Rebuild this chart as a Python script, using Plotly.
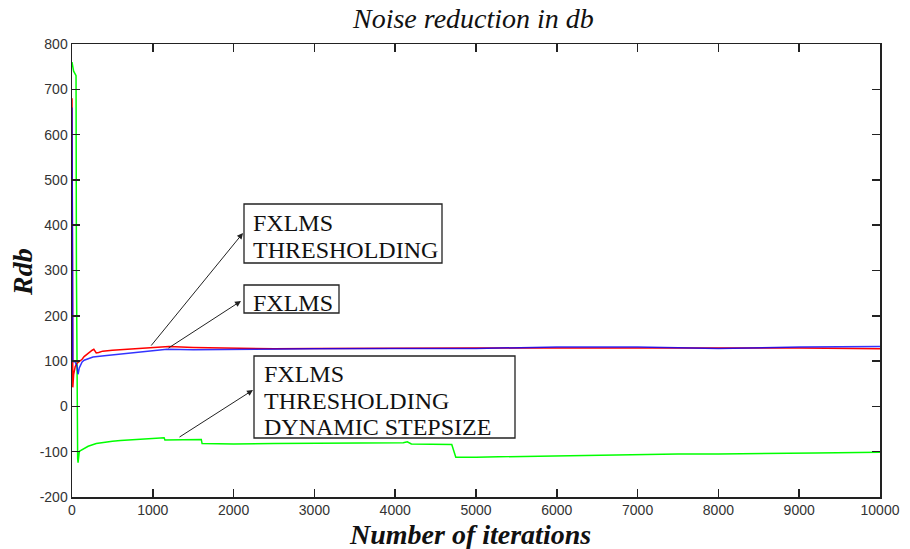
import plotly.graph_objects as go

# ---- data ----
red_iter = [0, 3, 6, 10, 20, 40, 60, 80, 100, 125, 150, 200, 250, 270, 300, 330, 380, 500, 600, 800, 1000, 1200, 1500, 2000, 2500, 3000, 4000, 5000, 6000, 7000, 8000, 9000, 10000]
red_val = [680, 400, 92, 42, 70, 88, 95, 98, 100, 104, 110, 118, 124, 126, 118, 119, 122, 124, 125, 128, 130, 132, 130, 128, 127, 128, 129, 129, 129, 129, 128, 129, 127]

blue_iter = [0, 3, 6, 10, 20, 40, 60, 75, 90, 110, 125, 150, 200, 260, 400, 670, 965, 1176, 1500, 1960, 2500, 3000, 4000, 5000, 6000, 7000, 8000, 9000, 10000]
blue_val = [660, 380, 100, 98, 100, 98, 90, 71, 85, 95, 98, 102, 106, 109, 112, 117, 121, 126, 125, 126, 126, 127, 128, 128, 131, 131, 128, 131, 132]

green_iter = [0, 10, 20, 35, 50, 55, 60, 65, 70, 75, 80, 90, 100, 130, 150, 200, 300, 400, 500, 600, 800, 1000, 1100, 1140, 1150, 1600, 1610, 2000, 2500, 3000, 3500, 4000, 4100, 4150, 4200, 4700, 4750, 5000, 6000, 7000, 7500, 8000, 9000, 9200, 10000]
green_val = [760, 745, 740, 735, 730, 300, -60, -90, -115, -124, -110, -100, -98, -95, -92, -88, -82, -79, -77, -75, -73, -70, -69, -69, -74, -73, -82, -83, -82, -81, -80, -79, -80, -78, -83, -84, -112, -112, -109, -107, -105, -105, -104, -103, -101]

x_ticks = [0, 1000, 2000, 3000, 4000, 5000, 6000, 7000, 8000, 9000, 10000]
y_ticks = [-200, -100, 0, 100, 200, 300, 400, 500, 600, 700, 800]

title_text = "Noise reduction in db"
x_title = "Number of iterations"
y_title = "Rdb"
label_thr = ["FXLMS", "THRESHOLDING"]
label_fx = ["FXLMS"]
label_dyn = ["FXLMS", "THRESHOLDING", "DYNAMIC STEPSIZE"]

serif = "Liberation Serif, Times New Roman, serif"
sans = "Liberation Sans, Arial, sans-serif"

# body margin removed in the page (post_script), so the figure fills the window
W, H = 910, 549
L, R, T, B = 72, 30, 44, 52
pw, ph = W - L - R, H - T - B
X0, X1 = 0, 10000
Y0, Y1 = -200, 800

def dx(px):  # window pixel -> x data
    return X0 + (px - L) / pw * (X1 - X0)

def dy(py):  # window pixel -> y data
    return Y0 + (H - B - py) / ph * (Y1 - Y0)

fig = go.Figure()
fig.add_trace(go.Scatter(x=green_iter, y=green_val, mode="lines", line=dict(color="#00ff00", width=1.5), showlegend=False))
fig.add_trace(go.Scatter(x=red_iter, y=red_val, mode="lines", line=dict(color="#ff0000", width=1.5), showlegend=False))
fig.add_trace(go.Scatter(x=blue_iter, y=blue_val, mode="lines", line=dict(color="#0000ff", width=1.5), opacity=0.8, showlegend=False))

axis_common = dict(showgrid=False, zeroline=False, showline=True, linecolor="#222", linewidth=1.5,
                   mirror="ticks", ticks="inside", ticklen=8, tickcolor="#222", tickwidth=1.5,
                   automargin=False,
                   tickfont=dict(family=sans, size=14, color="#333"))

fig.update_layout(
    width=W, height=H,
    paper_bgcolor="white", plot_bgcolor="white",
    margin=dict(l=L, r=R, t=T, b=B),
    hovermode=False,
    xaxis=dict(range=[X0, X1], tickvals=x_ticks, ticktext=[str(v) for v in x_ticks], **axis_common),
    yaxis=dict(range=[Y0, Y1], tickvals=y_ticks, ticktext=[str(v) for v in y_ticks], **axis_common),
)

# title and axis titles, placed by window pixel position
def paper_xy(px, py):
    return (px - L) / pw, (H - B - py) / ph

for txt, px, py, ang, sz in [("<i>" + title_text + "</i>", 473, 18.5, 0, 28),
                             ("<b><i>" + x_title + "</i></b>", 470, 534, 0, 28),
                             ("<b><i>" + y_title + "</i></b>", 22, 272, -90, 28)]:
    ax_, ay_ = paper_xy(px, py)
    fig.add_annotation(x=ax_, y=ay_, xref="paper", yref="paper", text=txt, showarrow=False,
                       textangle=ang, xanchor="center", yanchor="middle",
                       font=dict(family=serif, size=sz, color="#111"))

# arrows: head at box, tail at curve (window pixels)
arrows = [
    (243, 233, 150, 347),
    (241, 301, 167, 349),
    (253, 390, 178, 438),
]
for hx, hy, tx, ty in arrows:
    fig.add_annotation(x=dx(hx), y=dy(hy), ax=dx(tx), ay=dy(ty), xref="x", yref="y", axref="x", ayref="y",
                       text="", showarrow=True, arrowhead=2, arrowsize=1.2, arrowwidth=1, arrowcolor="#222")

# boxes: (lines, left, top, right, bottom, text-left, first cap-center, line step)
boxes = [
    (label_thr, 244, 204, 442, 263, 251, 223, 27),
    (label_fx, 244, 285, 339, 313, 251, 303, 27),
    (label_dyn, 254, 356, 515, 438, 262, 374, 26.5),
]
for lines, bl, bt, br, bb, tl, cy, step in boxes:
    fig.add_shape(type="rect", xref="x", yref="y", x0=dx(bl), x1=dx(br), y0=dy(bb), y1=dy(bt),
                  line=dict(color="#222", width=1.3), fillcolor="rgba(0,0,0,0)")
    for i, line in enumerate(lines):
        fig.add_annotation(x=dx(tl), y=dy(cy + i * step), xref="x", yref="y", xanchor="left", yanchor="middle",
                           text=line, showarrow=False, font=dict(family=serif, size=24, color="#111"))

fig.write_html("out.html", config={"displayModeBar": False, "staticPlot": True},
               post_script="document.body.style.margin='0';document.body.style.overflow='hidden';")
